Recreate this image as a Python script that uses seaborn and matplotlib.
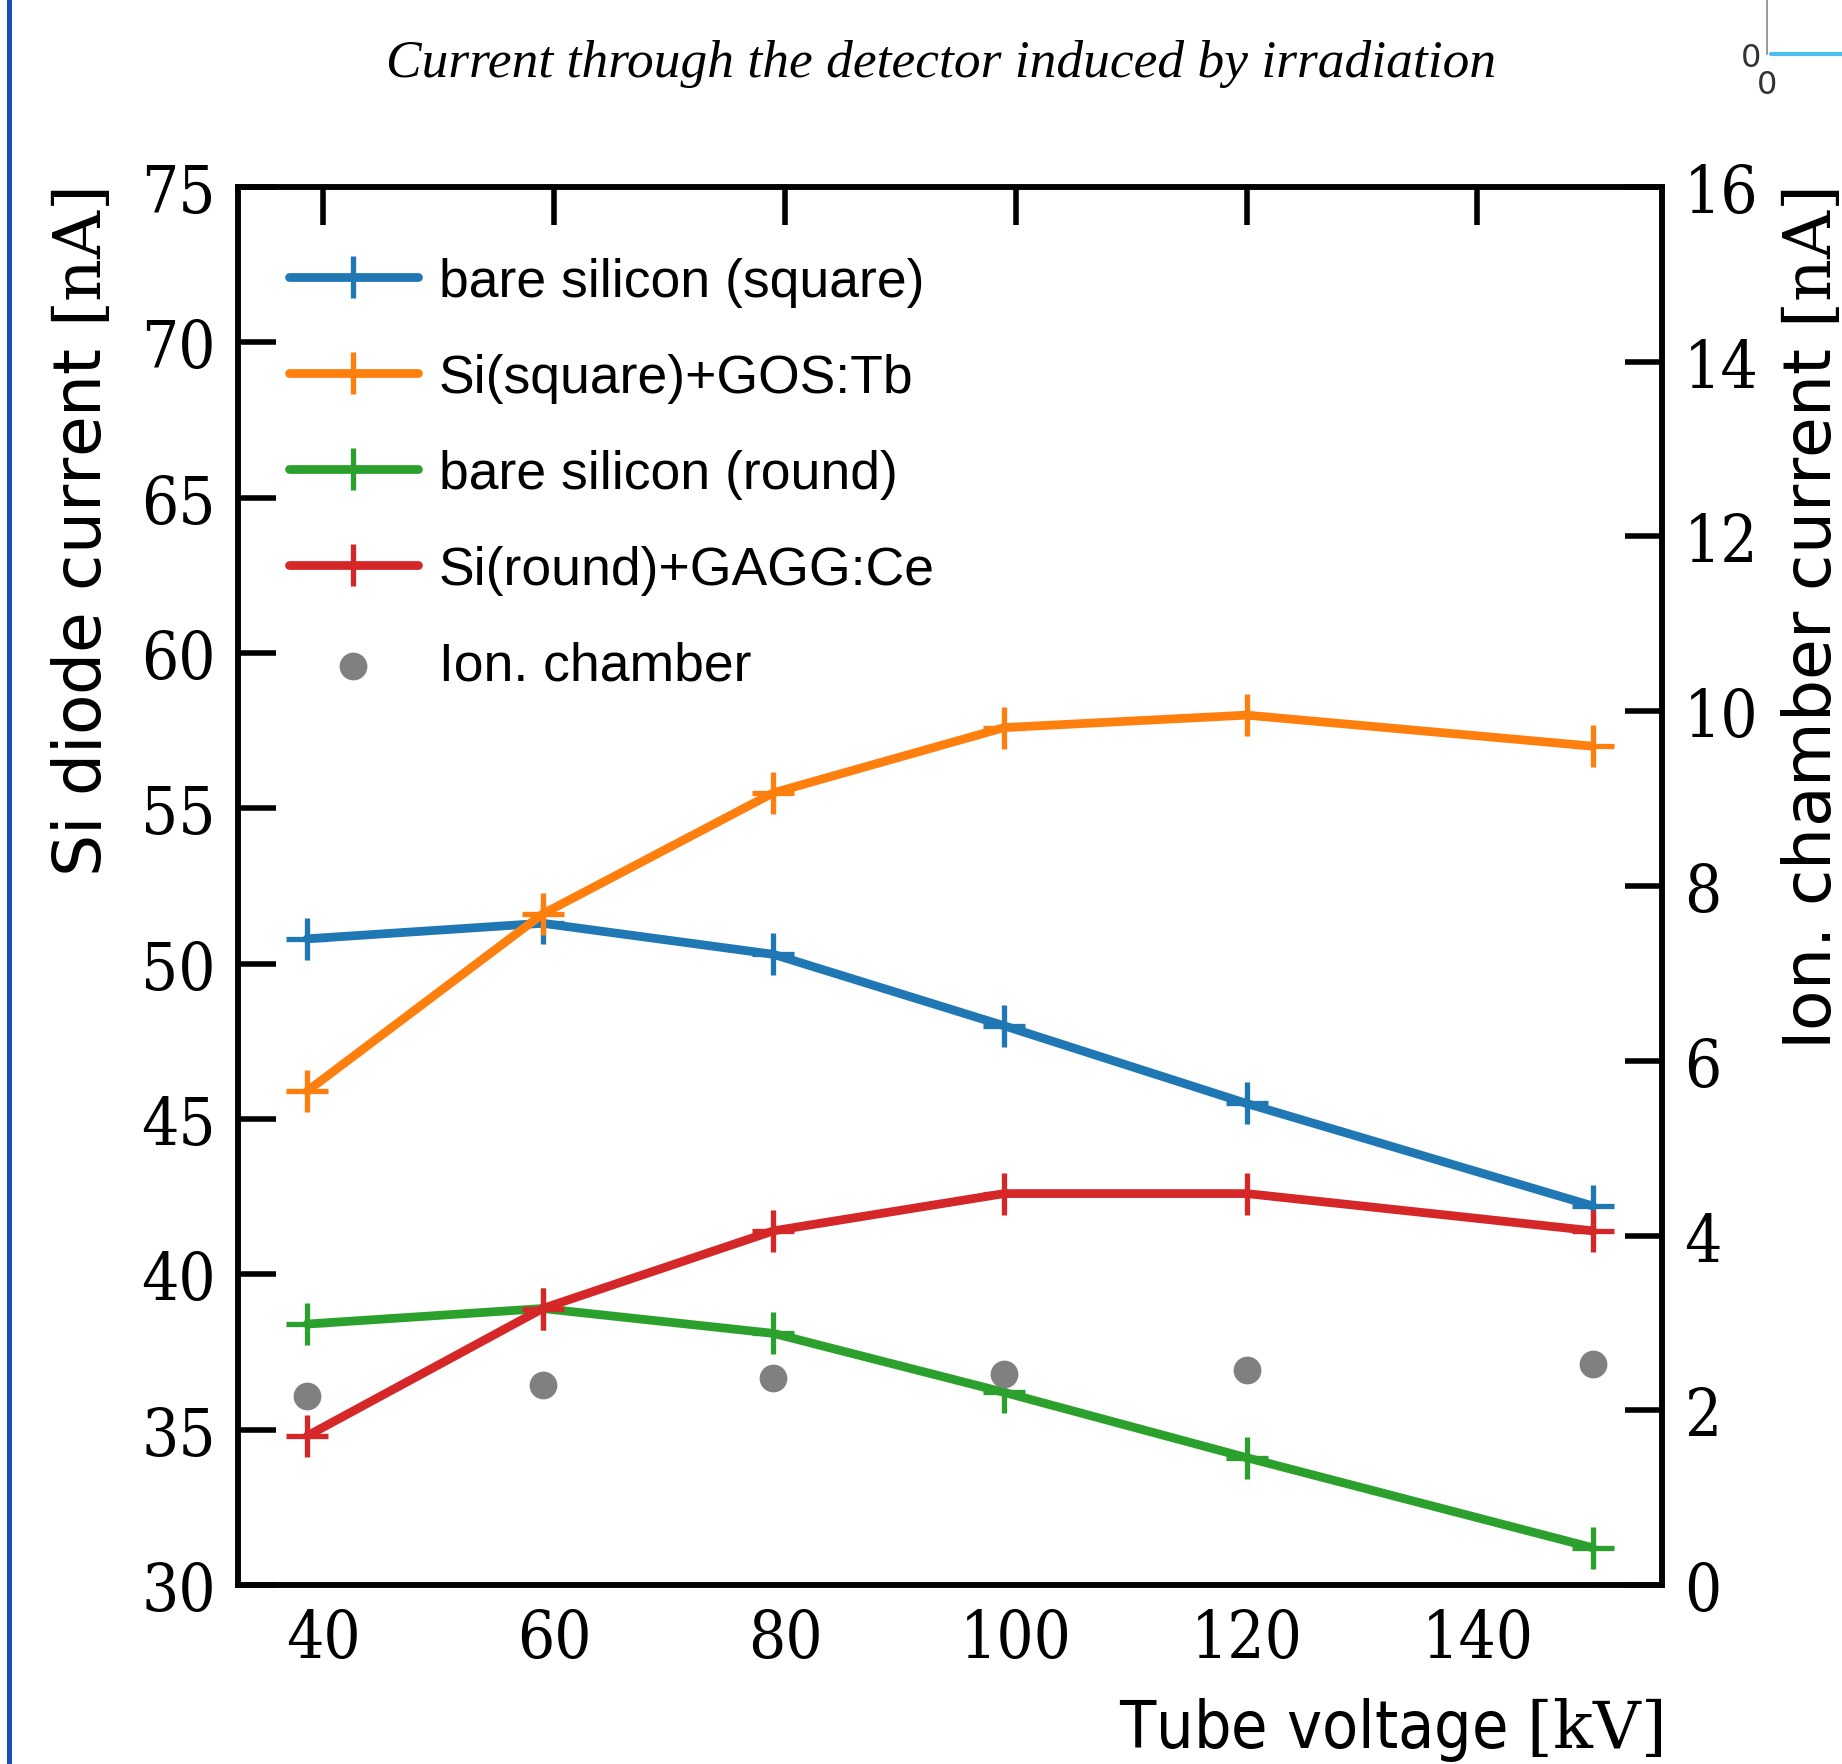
import matplotlib
matplotlib.use("Agg")
import matplotlib.pyplot as plt
from matplotlib.lines import Line2D
import seaborn as sns
import pandas as pd

# tube voltage [kV]
voltage = [38.6, 59, 79, 99, 120, 150]

# Si diode currents [nA]
si_square = [50.8, 51.3, 50.3, 48.0, 45.5, 42.2]
si_square_gos = [45.9, 51.6, 55.5, 57.6, 58.0, 57.0]
si_round = [38.4, 38.9, 38.1, 36.2, 34.1, 31.2]
si_round_gagg = [34.8, 38.9, 41.4, 42.6, 42.6, 41.4]

# ionisation chamber current [nA]
ion_chamber = [2.16, 2.29, 2.37, 2.42, 2.46, 2.53]

series_names = ["bare silicon (square)", "Si(square)+GOS:Tb",
                "bare silicon (round)", "Si(round)+GAGG:Ce"]
series_colors = ["#1f77b4", "#ff7f0e", "#2ca02c", "#d62728"]

sns.set_theme(style="white")
plt.rcParams["font.family"] = ["DejaVu Sans"]
plt.rcParams["mathtext.fontset"] = "dejavuserif"
plt.rcParams["text.color"] = "black"
plt.rcParams["axes.labelcolor"] = "black"
plt.rcParams["xtick.color"] = "black"
plt.rcParams["ytick.color"] = "black"

fig = plt.figure(figsize=(18.42, 17.65), dpi=100)
ax = fig.add_axes([0.1292, 0.1014, 0.7731, 0.7921])
ax2 = ax.twinx()

df = pd.DataFrame({
    "voltage": voltage * 4,
    "current": si_square + si_square_gos + si_round + si_round_gagg,
    "series": sum([[n] * len(voltage) for n in series_names], []),
})

for name, col in zip(series_names, series_colors):
    sub = df[df["series"] == name]
    sns.lineplot(data=sub, x="voltage", y="current", ax=ax, color=col,
                 linewidth=6.3, marker="+", markersize=30, mew=3.8,
                 mec=col, mfc=col, label=name, legend=False)

sns.scatterplot(x=voltage, y=ion_chamber, ax=ax2, color="#808080",
                s=20 ** 2, linewidth=0, label="Ion. chamber", legend=False)

ax.set_xlim(32.6, 156)
ax.set_ylim(30, 75)
ax2.set_ylim(0, 16)
ax.set_xticks([40, 60, 80, 100, 120, 140])
ax.set_yticks(range(30, 76, 5))
ax2.set_yticks(range(0, 17, 2))

tick_font = dict(family="DejaVu Serif", size=47, stretch="condensed")
for a in (ax, ax2):
    for sp in a.spines.values():
        sp.set_color("black")
        sp.set_linewidth(4)
ax.tick_params(axis="both", which="major", direction="in", length=27,
               width=4, color="black", pad=16, top=True, right=False)
ax2.tick_params(axis="y", direction="in", length=27, width=4,
                color="black", pad=16)
for lab in ax.get_xticklabels() + ax.get_yticklabels() + ax2.get_yticklabels():
    lab.set_fontproperties(tick_font)

ax.set_xlabel(r"Tube voltage $\mathrm{[kV]}$", loc="right", labelpad=17,
              family="DejaVu Sans", size=47.5, stretch="condensed")
ax.set_ylabel(r"Si diode current $\mathrm{[nA]}$", loc="top", labelpad=19,
              family="DejaVu Sans", size=47.8)
ax2.set_ylabel(r"Ion. chamber current $\mathrm{[nA]}$", loc="top",
               labelpad=16, family="DejaVu Sans", size=47.8)

fig.text(0.511, 0.964, "Current through the detector induced by irradiation",
         ha="center", va="center", family="Liberation Serif", style="italic",
         size=38.4)

h1, l1 = ax.get_legend_handles_labels()
h2, l2 = ax2.get_legend_handles_labels()
ax.legend(h1 + h2, l1 + l2, loc="upper left", bbox_to_anchor=(0.036, 0.950),
          frameon=False, borderpad=0, borderaxespad=0, handlelength=2.4,
          handletextpad=0.4, labelspacing=0.86,
          prop=dict(family="Liberation Sans", size=38.5))

# clipped neighbouring panel at the top right edge
axi = fig.add_axes([1767 / 1842, 1 - 55 / 1765, 75 / 1842, 55 / 1765])
axi.plot([0.05, 1], [0, 0], color="#4dbfef", lw=3, clip_on=False)
axi.set_xlim(0, 1)
axi.set_ylim(0, 1)
axi.set_xticks([0, 0.5])
axi.set_xticklabels(["0", ""])
axi.set_yticks([0, 0.65])
axi.set_yticklabels(["0", ""])
axi.tick_params(axis="x", direction="in", length=5, width=1,
                color="#666666", labelsize=23, labelcolor="#333333", pad=11)
axi.tick_params(axis="y", direction="in", length=5, width=1,
                color="#666666", labelsize=23, labelcolor="#333333", pad=4)
for k in ("top", "right", "bottom"):
    axi.spines[k].set_visible(False)
axi.spines["left"].set_color("#888888")
axi.spines["left"].set_linewidth(1.2)
axi.patch.set_alpha(0)

fig.add_artist(Line2D([0.005, 0.005], [0, 1], transform=fig.transFigure,
                      color="#1a4cb3", lw=3.6))

fig.savefig("out.png", dpi=100)
